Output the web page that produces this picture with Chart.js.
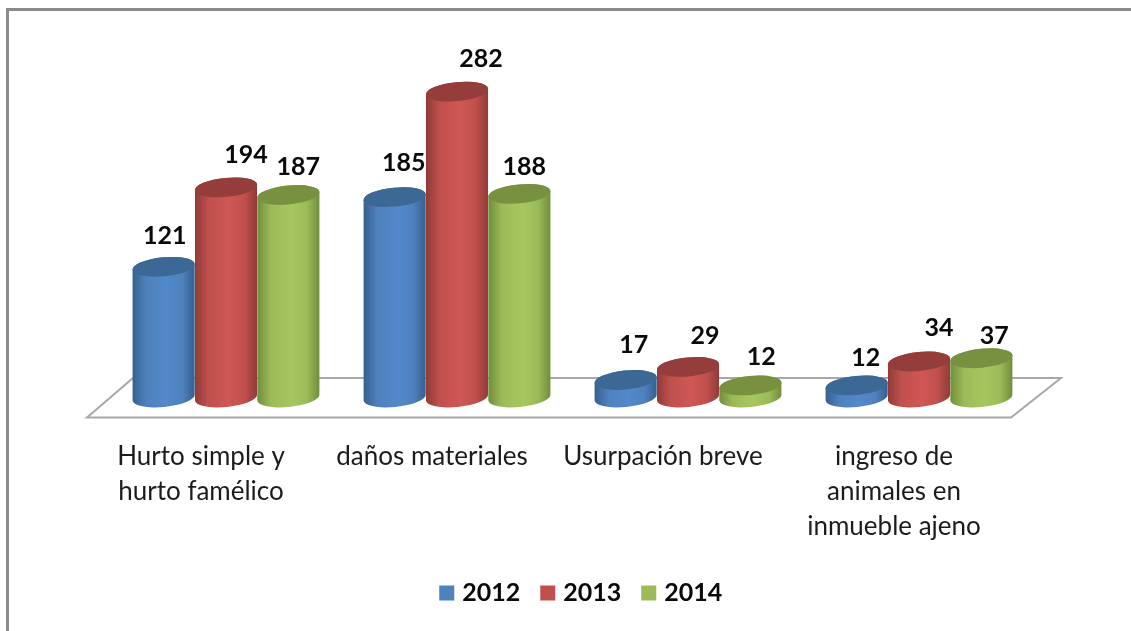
<!DOCTYPE html>
<html>
<head>
<meta charset="utf-8">
<style>
html,body{margin:0;padding:0;background:#fff;width:1131px;height:631px;overflow:hidden}
canvas{display:block;position:absolute;left:0;top:0;filter:blur(0.45px)}
</style>
<script src="https://cdn.jsdelivr.net/npm/chart.js@4"></script>
</head>
<body>
<canvas id="c" width="1131" height="631"></canvas>
<script>
const categories = [
  ["Hurto simple y", "hurto famélico"],
  ["daños materiales"],
  ["Usurpación breve"],
  ["ingreso de", "animales en", "inmueble ajeno"]
];
const seriesNames = ["2012", "2013", "2014"];
const values2012 = [121, 185, 17, 12];
const values2013 = [194, 282, 29, 34];
const values2014 = [187, 188, 12, 37];

const palette = [
  {base:"#4f81bd", edge:"#35608f", mid:"#5289cb", top:"#3c6896"},
  {base:"#c0504d", edge:"#8f3b39", mid:"#cf5754", top:"#943d3b"},
  {base:"#9bbb59", edge:"#708d3a", mid:"#a6c75f", top:"#779140"}
];
// label placement relative to the top of each cylinder
const labelNudge = [
  [[1,-31],[9,-34],[8,-35],[9,-28]],
  [[20,-32],[24,-33],[17,-31],[20,-34]],
  [[10,-28],[5,-27],[11,-29],[13,-22]]
];
const TILT = -5.5*Math.PI/180, RY = 9.5;

class CylinderElement extends Chart.BarElement {
  draw(ctx){
    const p = this.getProps(["x","y","base","width"], false);
    const rx = p.width/2;
    const col = palette[this.$series];
    const g = ctx.createLinearGradient(p.x-rx,0,p.x+rx,0);
    g.addColorStop(0,col.edge); g.addColorStop(.22,col.base);
    g.addColorStop(.55,col.mid); g.addColorStop(.8,col.base); g.addColorStop(1,col.edge);
    ctx.save();
    ctx.beginPath();
    ctx.ellipse(p.x,p.base-1,rx,RY,TILT,Math.PI,0,true);
    ctx.ellipse(p.x,p.y,rx,RY,TILT,0,Math.PI,true);
    ctx.closePath();
    ctx.fillStyle = g; ctx.fill();
    ctx.beginPath();
    ctx.ellipse(p.x,p.y,rx,RY,TILT,0,Math.PI*2);
    ctx.fillStyle = col.top; ctx.fill();
    ctx.restore();
  }
}
CylinderElement.id = "cylinder";
CylinderElement.defaults = Chart.BarElement.defaults;

class CylinderController extends Chart.BarController {
  draw(){ /* painted left to right by the scene plugin */ }
}
CylinderController.id = "cylinder";
CylinderController.defaults = Object.assign({}, Chart.BarController.defaults, {dataElementType:"cylinder"});
Chart.register(CylinderElement, CylinderController);

const scene = {
  id:"scene",
  afterLayout(chart){
    const l = chart.legend;
    const dx = 583 - (l.left+l.right)/2;
    l.left += dx; l.right += dx;
    const dy = 556 - l.top;
    l.top += dy; l.bottom += dy;
  },
  beforeDatasetsDraw(chart){
    const {ctx, chartArea:a} = chart;
    ctx.save();
    ctx.fillStyle="#8a8a8a";
    ctx.fillRect(6,8,1125,3);
    ctx.fillRect(6,8,3,623);
    ctx.strokeStyle="#a8a8a8"; ctx.lineWidth=2; ctx.lineJoin="miter";
    ctx.beginPath();
    ctx.moveTo(a.left-23.5,a.bottom+19);
    ctx.lineTo(a.left+22.5,a.bottom-20.5);
    ctx.lineTo(a.right+26.5,a.bottom-20.5);
    ctx.lineTo(a.right-23.5,a.bottom+19);
    ctx.closePath(); ctx.stroke();
    ctx.restore();
  },
  afterDatasetsDraw(chart){
    const {ctx} = chart;
    chart.data.datasets.forEach((d,i)=>{
      chart.getDatasetMeta(i).data.forEach(el=>{ el.$series=i; el.draw(ctx); });
    });
    ctx.save();
    ctx.font='bold 25px Lato'; ctx.fillStyle="#0a0a0a";
    ctx.textAlign="center"; ctx.textBaseline="middle";
    chart.data.datasets.forEach((d,i)=>{
      chart.getDatasetMeta(i).data.forEach((el,j)=>{
        const n = labelNudge[i][j];
        ctx.fillText(String(d.data[j]), el.x+n[0], el.y+n[1]);
      });
    });
    ctx.restore();
  }
};

const allSeries = [values2012, values2013, values2014];
new Chart(document.getElementById("c"),{
  type:"cylinder",
  plugins:[scene],
  data:{
    labels:categories,
    datasets:seriesNames.map((n,i)=>({
      label:n, data:allSeries[i],
      backgroundColor:palette[i].base, borderColor:palette[i].base, borderWidth:9,
      barPercentage:1.0, categoryPercentage:0.81
    }))
  },
  options:{
    responsive:false, animation:false,
    layout:{padding:{left:110.5,right:96.5,top:72,bottom:0}},
    events:[],
    scales:{
      x:{
        type:"category",
        grid:{display:false}, border:{display:false},
        afterFit(s){ s.height = 173; },
        ticks:{
          color:"#1c1c1c", padding:33, labelOffset:-25, maxRotation:0, autoSkip:false,
          font:{family:"Lato",size:26,lineHeight:1.346}
        }
      },
      y:{type:"linear",display:false,min:0,max:300}
    },
    plugins:{
      tooltip:{enabled:false},
      title:{display:false},
      legend:{
        position:"bottom",
        labels:{
          boxWidth:6, boxHeight:6, padding:24.5, color:"#0a0a0a",
          font:{family:"Lato",size:25,weight:"bold"}
        }
      }
    }
  }
});
</script>
</body>
</html>
